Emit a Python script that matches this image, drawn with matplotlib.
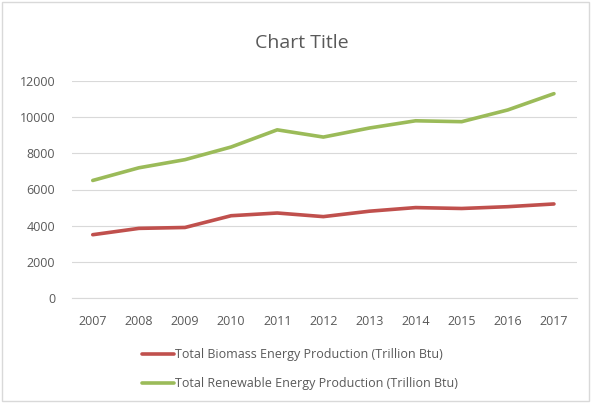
import matplotlib.pyplot as plt
from matplotlib.patches import Rectangle

years = [2007, 2008, 2009, 2010, 2011, 2012, 2013, 2014, 2015, 2016, 2017]
biomass = [3500, 3850, 3900, 4550, 4700, 4500, 4800, 5000, 4950, 5050, 5200]
renewable = [6500, 7200, 7650, 8350, 9300, 8900, 9400, 9800, 9750, 10400, 11300]
yticks = [0, 2000, 4000, 6000, 8000, 10000, 12000]

plt.rcParams["font.family"] = ["Open Sans", "DejaVu Sans"]

fig = plt.figure(figsize=(5.91, 4.03), dpi=100)
ax = fig.add_axes([72 / 591, 1 - 298 / 403, (577 - 72) / 591, (298 - 81) / 403])

ax.plot(range(len(years)), biomass, color="#C0504D", linewidth=2.6,
        solid_capstyle="round", label="Total Biomass Energy Production (Trillion Btu)")
ax.plot(range(len(years)), renewable, color="#9BBB59", linewidth=2.6,
        solid_capstyle="round", label="Total Renewable Energy Production (Trillion Btu)")

ax.set_ylim(0, 12000)
ax.set_yticks(yticks)
ax.set_xlim(-0.45, len(years) - 0.5)
ax.set_xticks(range(len(years)))
ax.set_xticklabels([str(y) for y in years])
ax.tick_params(axis="both", length=0, labelsize=9, colors="#595959")
ax.tick_params(axis="x", pad=12)
ax.tick_params(axis="y", pad=12)
ax.grid(axis="y", color="#D9D9D9", linewidth=0.8)
ax.set_axisbelow(True)
for s in ["top", "right", "left"]:
    ax.spines[s].set_visible(False)
ax.spines["bottom"].set_color("#D9D9D9")

fig.text(302 / 591, 1 - 43 / 403, "Chart Title",
         ha="center", va="center", fontsize=14, color="#595959")

leg = fig.legend(loc="center", bbox_to_anchor=(300 / 591, 1 - 369 / 403), ncol=1,
                 frameon=False, fontsize=9, handlelength=2.6, handletextpad=0.1,
                 labelspacing=1.3)
for t in leg.get_texts():
    t.set_color("#595959")

fig.patches.append(Rectangle((0.004, 0.004), 0.992, 0.992, transform=fig.transFigure,
                             fill=False, edgecolor="#D9D9D9", linewidth=1))

fig.savefig("out.png", dpi=100)
